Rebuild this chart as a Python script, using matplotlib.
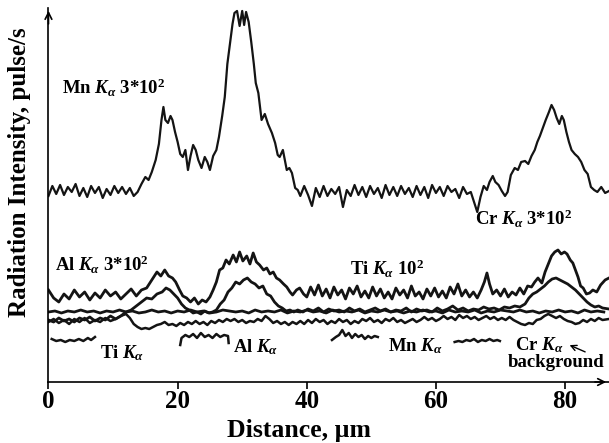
"""
Line-scan profiles: radiation intensity along the distance (Mn, Cr, Al, Ti K-alpha).
"""
import numpy as np
import matplotlib
matplotlib.use('Agg')
import matplotlib.pyplot as plt

plt.rcParams['font.family'] = ['Liberation Serif', 'DejaVu Serif']
plt.rcParams['font.weight'] = 'bold'
plt.rcParams['mathtext.fontset'] = 'custom'
plt.rcParams['mathtext.rm'] = 'Liberation Serif:bold'
plt.rcParams['mathtext.it'] = 'Liberation Serif:italic:bold'
plt.rcParams['mathtext.bf'] = 'Liberation Serif:bold'

# ---------- data (distance in um, intensity in arbitrary units) ----------
mn_pts = [
    (0, 186), (0.6, 196), (1.2, 188), (1.8, 197), (2.4, 187), (3.0, 195), (3.6, 190),
    (4.2, 198), (4.8, 186), (5.4, 194), (6.0, 185), (6.6, 196), (7.2, 189), (7.8, 195),
    (8.4, 184), (9.0, 193), (9.6, 187), (10.2, 196), (10.8, 189), (11.4, 195), (12.0, 188),
    (12.6, 194), (13.2, 186), (13.8, 190), (14.4, 198), (15.0, 205), (15.5, 202), (16.0, 210),
    (16.6, 222), (17.1, 238), (17.5, 262), (17.8, 275), (18.1, 262), (18.5, 259), (18.9, 266),
    (19.2, 262), (19.6, 250), (20.0, 240), (20.4, 228), (20.8, 225), (21.2, 232), (21.6, 212),
    (22.0, 226), (22.4, 237), (22.8, 232), (23.2, 222), (23.7, 214), (24.2, 225), (24.6, 220),
    (25.0, 212), (25.5, 226), (26.0, 232), (26.4, 245), (26.9, 266), (27.3, 285), (27.7, 318),
    (28.1, 338), (28.5, 358), (28.8, 369), (29.2, 371), (29.6, 356), (30.0, 371), (30.3, 357),
    (30.6, 370), (31.0, 360), (31.4, 340), (31.8, 318), (32.1, 299), (32.5, 289), (33.0, 262),
    (33.5, 268), (34.0, 258), (34.6, 249), (35.1, 239), (35.5, 227), (35.8, 225), (36.3, 232),
    (36.9, 212), (37.3, 214), (37.7, 209), (38.2, 194), (38.6, 192),
    (39.0, 186), (39.6, 196), (40.2, 187), (40.8, 176), (41.4, 194), (42.0, 185), (42.6, 196),
    (43.2, 186), (43.8, 193), (44.4, 188), (45.0, 195), (45.6, 175), (46.2, 192), (46.8, 186),
    (47.4, 197), (48.0, 187), (48.6, 195), (49.2, 185), (49.8, 196), (50.4, 188), (51.0, 194),
    (51.6, 184), (52.2, 197), (52.8, 187), (53.4, 195), (54.0, 186), (54.6, 196), (55.2, 188),
    (55.8, 194), (56.4, 185), (57.0, 196), (57.6, 187), (58.2, 195), (58.8, 184), (59.4, 197),
    (60.0, 189), (60.6, 195), (61.2, 186), (61.8, 196), (62.4, 190), (63.0, 193), (63.6, 184),
    (64.2, 195), (64.8, 188), (65.4, 190), (66.0, 178), (66.4, 170), (66.9, 185), (67.4, 196),
    (67.9, 192), (68.3, 200), (68.8, 206), (69.2, 200), (69.7, 197), (70.2, 191), (70.7, 186),
    (71.1, 190), (71.6, 207), (72.2, 214), (72.7, 212), (73.2, 220), (73.8, 221), (74.3, 218),
    (74.8, 226), (75.3, 232), (75.7, 240), (76.1, 246), (76.6, 255), (77.0, 262), (77.5, 270),
    (77.9, 277), (78.3, 272), (78.7, 264), (79.1, 258), (79.5, 266), (79.8, 262), (80.2, 250),
    (80.6, 240), (81.0, 232), (81.5, 228), (82.0, 225), (82.5, 220), (83.0, 212), (83.5, 208),
    (84.0, 195), (84.5, 192), (85.0, 190), (85.6, 195), (86.2, 189), (86.8, 191),
]

top_pts = [
    (0, 92), (0.8, 84), (1.6, 80), (2.4, 88), (3.2, 83), (4.0, 92), (4.8, 85), (5.6, 90),
    (6.4, 82), (7.2, 89), (8.0, 84), (8.8, 92), (9.6, 86), (10.4, 90), (11.2, 83), (12.0, 88),
    (12.8, 93), (13.6, 86), (14.4, 92), (15.2, 94), (16.0, 102), (16.8, 110), (17.4, 106),
    (18.0, 112), (18.6, 106), (19.2, 104), (19.7, 100), (20.3, 92), (20.8, 86), (21.4, 84),
    (22.0, 80), (22.6, 84), (23.2, 78), (23.8, 82), (24.4, 80), (25.0, 85), (25.5, 92),
    (26.0, 100), (26.5, 112), (27.0, 114), (27.5, 122), (28.0, 118), (28.6, 127), (29.1, 120),
    (29.6, 130), (30.1, 121), (30.7, 126), (31.2, 118), (31.7, 129), (32.2, 120), (32.7, 117),
    (33.3, 112), (33.8, 114), (34.3, 108), (34.8, 110), (35.3, 104), (35.8, 102), (36.4, 98),
    (36.9, 95), (37.4, 90), (37.8, 87), (38.4, 92), (38.9, 94), (39.5, 88), (40.0, 85),
    (40.6, 95), (41.2, 87), (41.8, 97), (42.4, 86), (43.0, 93), (43.6, 84), (44.2, 95),
    (44.8, 87), (45.4, 92), (46.0, 83), (46.6, 94), (47.2, 88), (47.8, 96), (48.4, 85),
    (49.0, 91), (49.6, 84), (50.2, 95), (50.8, 86), (51.4, 93), (52.0, 84), (52.6, 90),
    (53.2, 83), (53.8, 94), (54.4, 87), (55.0, 92), (55.6, 84), (56.2, 96), (56.8, 86),
    (57.4, 90), (58.0, 83), (58.6, 93), (59.2, 86), (59.8, 94), (60.4, 85), (61.0, 91),
    (61.6, 84), (62.2, 95), (62.8, 88), (63.4, 98), (64.0, 86), (64.6, 92), (65.2, 85),
    (65.8, 90), (66.4, 84), (67.0, 92), (67.5, 100), (67.9, 109), (68.3, 98), (68.8, 88),
    (69.4, 92), (70.0, 86), (70.6, 93), (71.2, 85), (71.8, 90), (72.4, 87), (73.0, 94),
    (73.6, 88), (74.2, 96), (74.8, 95), (75.3, 100), (75.8, 104), (76.4, 99), (76.9, 110),
    (77.4, 118), (77.9, 126), (78.4, 130), (78.9, 132), (79.4, 128), (79.9, 130), (80.3, 128),
    (80.8, 122), (81.2, 119), (81.6, 112), (82.0, 105), (82.4, 96), (82.8, 94), (83.3, 88),
    (83.8, 89), (84.3, 92), (84.9, 90), (85.5, 97), (86.2, 102), (86.8, 104),
]

mid_pts = [
    (0, 62), (0.8, 60), (1.6, 64), (2.4, 61), (3.2, 63), (4.0, 60), (4.8, 64), (5.6, 62),
    (6.4, 65), (7.2, 61), (8.0, 64), (8.8, 62), (9.6, 66), (10.4, 63), (11.2, 66), (12.0, 70),
    (12.8, 72), (13.6, 76), (14.4, 80), (15.2, 84), (16.0, 83), (16.8, 88), (17.6, 90),
    (18.2, 94), (18.8, 92), (19.4, 88), (20.0, 84), (20.6, 78), (21.2, 74), (21.8, 72),
    (22.4, 69), (23.0, 70), (23.6, 68), (24.2, 71), (24.8, 69), (25.4, 70), (26.0, 72),
    (26.6, 78), (27.2, 82), (27.8, 90), (28.4, 94), (29.0, 100), (29.6, 98), (30.2, 102),
    (30.8, 104), (31.4, 100), (32.0, 98), (32.6, 94), (33.2, 96), (33.8, 88), (34.4, 86),
    (35.0, 80), (35.6, 76), (36.2, 74), (36.8, 71), (37.4, 72), (38.0, 70), (38.6, 72),
    (39.4, 70), (40.2, 73), (41.0, 71), (41.8, 74), (42.6, 70), (43.4, 73), (44.2, 71),
    (45.0, 72), (45.8, 70), (46.6, 74), (47.4, 71), (48.2, 73), (49.0, 70), (49.8, 72),
    (50.6, 74), (51.4, 71), (52.2, 73), (53.0, 70), (53.8, 72), (54.6, 71), (55.4, 74),
    (56.2, 70), (57.0, 73), (57.8, 71), (58.6, 72), (59.4, 70), (60.2, 74), (61.0, 71),
    (61.8, 73), (62.6, 76), (63.4, 72), (64.2, 74), (65.0, 71), (65.8, 73), (66.6, 72),
    (67.4, 75), (68.2, 73), (69.0, 74), (69.8, 72), (70.6, 75), (71.4, 74), (72.2, 76),
    (73.0, 75), (73.8, 78), (74.4, 84), (75.0, 88), (75.6, 90), (76.2, 93), (76.8, 96),
    (77.4, 100), (78.0, 103), (78.6, 104), (79.2, 102), (79.8, 100), (80.4, 98), (81.0, 95),
    (81.6, 92), (82.2, 88), (82.8, 84), (83.4, 80), (84.0, 77), (84.6, 75), (85.2, 76),
    (85.8, 74), (86.8, 73),
]

flat_x = list(range(87))
flat_y = [
    70, 71, 69, 71, 70, 72, 70, 71, 69, 71,
    70, 72, 70, 71, 69, 70, 72, 70, 71, 69,
    71, 70, 72, 70, 71, 69, 70, 72, 71, 70,
    71, 69, 72, 70, 71, 70, 72, 69, 71, 70,
    72, 70, 71, 69, 72, 70, 71, 70, 72, 69,
    71, 70, 72, 70, 71, 69, 71, 70, 72, 70,
    71, 69, 72, 70, 71, 70, 72, 69, 71, 70,
    72, 71, 70, 72, 70, 71, 69, 71, 70, 72,
    70, 71, 69, 72, 70, 71, 70,
]

low_pts = [
    (0, 60), (0.8, 63), (1.6, 59), (2.4, 62), (3.2, 58), (4.0, 63), (4.8, 60), (5.6, 64),
    (6.4, 59), (7.2, 62), (8.0, 60), (8.8, 64), (9.6, 61), (10.4, 63), (11.2, 66), (12.0, 68),
    (12.6, 64), (13.2, 58), (13.8, 55), (14.4, 53), (15.0, 54), (15.6, 53), (16.2, 55),
    (16.8, 57), (17.4, 58), (18.0, 60), (18.6, 57), (19.2, 58), (19.8, 56), (20.4, 59),
    (21.0, 57), (21.6, 60), (22.2, 58), (22.8, 61), (23.4, 58), (24.0, 60), (24.6, 57),
    (25.2, 61), (25.8, 59), (26.4, 62), (27.0, 60), (27.6, 63), (28.2, 61), (28.8, 63),
    (29.4, 60), (30.0, 62), (30.6, 59), (31.2, 61), (31.8, 60), (32.4, 63), (33.0, 61),
    (33.6, 66), (34.2, 63), (34.8, 59), (35.4, 61), (36.0, 58), (36.6, 60), (37.2, 57),
    (37.8, 60), (38.4, 58), (39.0, 61), (39.6, 58), (40.2, 62), (40.8, 59), (41.4, 63),
    (42.0, 60), (42.6, 62), (43.2, 58), (43.8, 61), (44.4, 59), (45.0, 63), (45.6, 60),
    (46.2, 62), (46.8, 58), (47.4, 61), (48.0, 59), (48.6, 63), (49.2, 61), (49.8, 64),
    (50.4, 60), (51.0, 62), (51.6, 59), (52.2, 63), (52.8, 61), (53.4, 64), (54.0, 60),
    (54.6, 62), (55.2, 59), (55.8, 61), (56.4, 63), (57.0, 60), (57.6, 62), (58.2, 65),
    (58.8, 62), (59.4, 64), (60.0, 61), (60.6, 63), (61.2, 66), (61.8, 63), (62.4, 65),
    (63.0, 62), (63.6, 67), (64.2, 64), (64.8, 66), (65.4, 63), (66.0, 65), (66.6, 62),
    (67.2, 64), (67.8, 66), (68.4, 63), (69.0, 65), (69.6, 62), (70.2, 64), (70.8, 62),
    (71.4, 65), (72.0, 62), (72.6, 60), (73.2, 58), (73.8, 57), (74.4, 59), (75.0, 58),
    (75.6, 62), (76.2, 63), (76.8, 66), (77.4, 68), (78.0, 66), (78.6, 64), (79.2, 66),
    (79.8, 63), (80.4, 61), (81.0, 60), (81.6, 58), (82.2, 59), (82.8, 62), (83.4, 60),
    (84.0, 63), (84.6, 61), (85.2, 64), (85.8, 62), (86.8, 63),
]

# background segments
bg_ti = [(0.5, 43), (1.2, 41), (1.9, 42), (2.6, 40), (3.3, 42), (4.0, 41), (4.7, 43),
         (5.4, 41), (6.1, 44), (6.6, 42), (7.2, 45)]
bg_al = [(20.4, 37), (20.6, 44), (21.2, 47), (21.8, 45), (22.4, 48), (23.0, 44), (23.6, 49),
         (24.2, 45), (24.8, 47), (25.4, 44), (26.0, 48), (26.6, 45), (27.2, 47), (27.8, 46),
         (27.9, 39)]
bg_mn = [(43.9, 42), (44.5, 45), (45.0, 47), (45.5, 52), (46.0, 46), (46.5, 49), (47.0, 44),
         (47.5, 48), (48.0, 45), (48.5, 47), (49.0, 43), (49.5, 46), (50.0, 44), (50.5, 46),
         (51.0, 45)]
bg_cr = [(62.9, 40), (63.5, 41), (64.1, 40), (64.7, 42), (65.3, 41), (65.9, 43), (66.5, 40),
         (67.1, 42), (67.7, 41), (68.3, 43), (68.9, 41), (69.5, 42), (69.9, 41)]

x_ticks = [0, 20, 40, 60, 80]

# ---------- figure ----------
fig = plt.figure(figsize=(6.09, 4.43), dpi=100)
ax = fig.add_axes([0.0796, 0.1377, 0.9204, 0.8443])

line_color = '#141414'
mn = np.array(mn_pts).T
ax.plot(mn[0], mn[1], color=line_color, lw=1.6)
for pts, lw in [(top_pts, 2.0), (mid_pts, 2.0), (low_pts, 1.8)]:
    arr = np.array(pts).T
    ax.plot(arr[0], arr[1], color=line_color, lw=lw)
ax.plot(flat_x, flat_y, color=line_color, lw=2.0)
for seg in [bg_ti, bg_al, bg_mn, bg_cr]:
    arr = np.array(seg).T
    ax.plot(arr[0], arr[1], color=line_color, lw=1.8)

ax.set_xlim(0, 86.8)
ax.set_ylim(0, 374)

for side in ['top', 'right']:
    ax.spines[side].set_visible(False)
for side in ['left', 'bottom']:
    ax.spines[side].set_linewidth(1.2)
ax.set_yticks([])
ax.set_xticks(x_ticks)
ax.set_xticklabels([str(t) for t in x_ticks], fontsize=18, fontweight='bold')
ax.tick_params(axis='x', direction='out', length=5, width=1.2, pad=1)

# axis arrows
ax.annotate('', xy=(0, 1.0), xytext=(0, 0.95), xycoords='axes fraction',
            arrowprops=dict(arrowstyle='->', lw=1.2, color='black', mutation_scale=12))
ax.annotate('', xy=(1.0, 0), xytext=(0.97, 0), xycoords='axes fraction',
            arrowprops=dict(arrowstyle='->', lw=1.2, color='black', mutation_scale=12),
            annotation_clip=False)

ax.set_xlabel(u'Distance, \u00b5m', fontsize=18.5, fontweight='bold')
ax.xaxis.set_label_coords(0.447, -0.100)
ax.set_ylabel('Radiation Intensity, pulse/s', fontsize=18, fontweight='bold')
ax.yaxis.set_label_coords(-0.032, 0.56)

# ---------- labels ----------
lab_kw = dict(fontsize=13.5, fontweight='bold', ha='left', va='center')
ax.text(2.1, 294, r'Mn $K_{\alpha}$ 3*10$^{2}$', **lab_kw)
ax.text(66.0, 163, r'Cr $K_{\alpha}$ 3*10$^{2}$', **lab_kw)
ax.text(1.0, 117, r'Al $K_{\alpha}$ 3*10$^{2}$', **lab_kw)
ax.text(46.7, 113, r'Ti $K_{\alpha}$ 10$^{2}$', **lab_kw)
ax.text(8.0, 29, r'Ti $K_{\alpha}$', **lab_kw)
ax.text(28.6, 35, r'Al $K_{\alpha}$', **lab_kw)
ax.text(52.5, 36, r'Mn $K_{\alpha}$', **lab_kw)
ax.text(72.2, 37, r'Cr $K_{\alpha}$', **lab_kw)
ax.text(71.1, 19, 'background', **lab_kw)
ax.annotate('', xy=(80.3, 38), xytext=(83.5, 29),
            arrowprops=dict(arrowstyle='->', lw=1.0, color='black'))

fig.savefig('out.png', dpi=100)
